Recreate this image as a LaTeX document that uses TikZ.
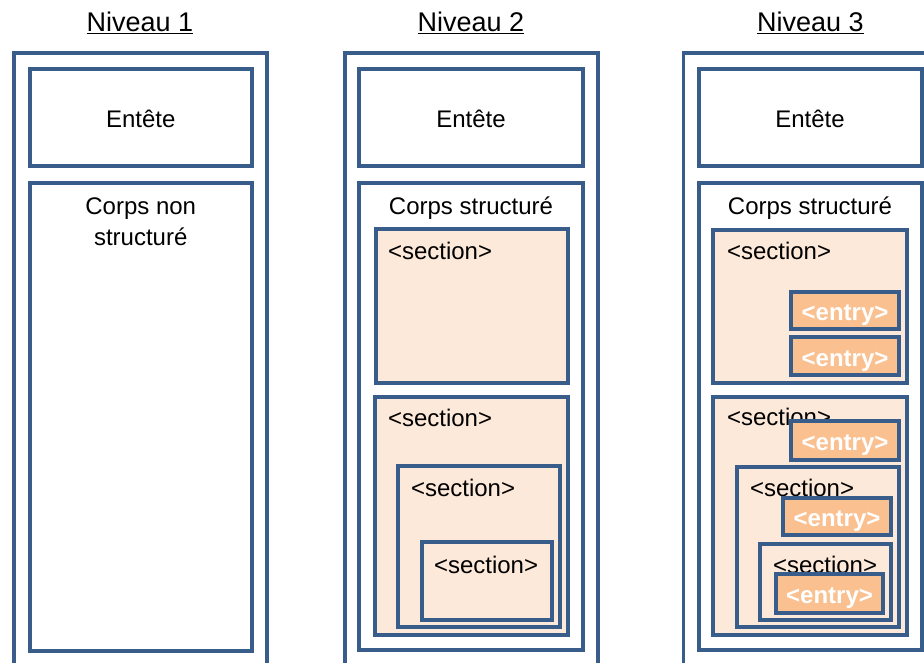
\documentclass[tikz,border=0pt]{standalone}
\usepackage{fontspec}
\setmainfont{Liberation Sans}
\usepackage{tikz}

\definecolor{bordure}{HTML}{385D8A}
\definecolor{fondsection}{HTML}{FDE9D9}
\definecolor{fondentree}{HTML}{FAC090}

\begin{document}
\begin{tikzpicture}
		[x=1pt,y=-1pt]
		\tikzstyle{every node}=[inner sep=0pt, outer sep=0pt,
		font=\fontsize{24}{28}\selectfont]
		\tikzstyle{externe}=[rectangle, draw=bordure, line width=3.5pt]
		\tikzstyle{cadre}=[rectangle, draw=bordure, line width=4pt, fill=white]
		\tikzstyle{entete}=[cadre, text height=20pt, text depth=0pt]
		\tikzstyle{sect}=[cadre, fill=fondsection]
		\tikzstyle{entree}=[cadre, fill=fondentree, text=white,
		font=\fontsize{24}{28}\selectfont\bfseries, text height=20pt, text depth=0pt]
		\tikzstyle{titre}=[anchor=base, font=\fontsize{27}{32}\selectfont]
		\tikzstyle{texte}=[anchor=base]
		\tikzstyle{balise}=[anchor=base west]
		\useasboundingbox (0,0) rectangle (924,663);
		\clip (0,0) rectangle (924,663);
		%-----Niveau 1
		 \node[titre]  (niv1) at (140,32) {\underline{Niveau 1}};
		 \node[externe, minimum width=253pt, minimum height=660pt]  (ext1) at (140.5,383) {};
		 \node[entete, minimum width=222.5pt, minimum height=97pt]  (ent1) at (140.75,117.5) {Entête};
		 \node[cadre, minimum width=222.5pt, minimum height=468pt]  (corps1) at (140.75,417) {};
		 \node[texte]  (corps1a) at (140.75,215) {Corps non};
		 \node[texte]  (corps1b) at (140.75,246) {structuré};
		%-----Niveau 2
		 \node[titre]  (niv2) at (471,32) {\underline{Niveau 2}};
		 \node[externe, minimum width=253pt, minimum height=660pt]  (ext2) at (471.5,383) {};
		 \node[entete, minimum width=224pt, minimum height=97pt]  (ent2) at (471,117.5) {Entête};
		 \node[cadre, minimum width=224pt, minimum height=467pt]  (corps2) at (471,416.5) {};
		 \node[texte]  (corps2a) at (471,215) {Corps structuré};
		 \node[sect, minimum width=192pt, minimum height=153.5pt]  (sec2a) at (471.5,306.25) {};
		 \node[balise]  (bal2a) at (388,259) {<section>};
		 \node[sect, minimum width=192.5pt, minimum height=238.5pt]  (sec2b) at (471.25,515.75) {};
		 \node[balise]  (bal2b) at (388,426) {<section>};
		 \node[sect, minimum width=162pt, minimum height=161pt]  (sec2c) at (479,546.5) {};
		 \node[balise]  (bal2c) at (411,496) {<section>};
		 \node[sect, minimum width=130.5pt, minimum height=77.5pt]  (sec2d) at (486.75,580.75) {};
		 \node[balise]  (bal2d) at (434,573) {<section>};
		%-----Niveau 3
		 \node[titre]  (niv3) at (810.5,32) {\underline{Niveau 3}};
		 \node[externe, minimum width=253pt, minimum height=660pt]  (ext3) at (810,383) {};
		 \node[entete, minimum width=223pt, minimum height=97pt]  (ent3) at (810,117.5) {Entête};
		 \node[cadre, minimum width=223pt, minimum height=466.5pt]  (corps3) at (810,416.75) {};
		 \node[texte]  (corps3a) at (810,215) {Corps structuré};
		 \node[sect, minimum width=194pt, minimum height=153pt]  (sec3a) at (810,306.5) {};
		 \node[balise]  (bal3a) at (727,260) {<section>};
		 \node[entree, minimum width=108pt, minimum height=37pt]  (entr3a) at (845,310) {<entry>};
		 \node[entree, minimum width=108pt, minimum height=38pt]  (entr3b) at (845,356) {<entry>};
		 \node[sect, minimum width=194pt, minimum height=238pt]  (sec3b) at (810,516) {};
		 \node[balise]  (bal3b) at (727,425) {<section>};
		 \node[entree, minimum width=108pt, minimum height=39pt]  (entr3c) at (845,440.5) {<entry>};
		 \node[sect, minimum width=162pt, minimum height=160pt]  (sec3c) at (817.5,547) {};
		 \node[balise]  (bal3c) at (750,496) {<section>};
		 \node[entree, minimum width=108pt, minimum height=37pt]  (entr3d) at (837,516.5) {<entry>};
		 \node[sect, minimum width=131pt, minimum height=76pt]  (sec3d) at (825.5,582) {};
		 \node[balise]  (bal3d) at (773,573) {<section>};
		 \node[entree, minimum width=107pt, minimum height=39pt]  (entr3e) at (829.5,593) {<entry>};
\end{tikzpicture}
\end{document}
